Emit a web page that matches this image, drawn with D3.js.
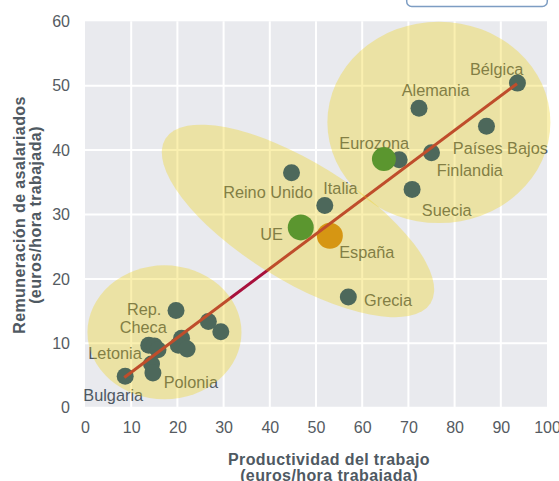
<!DOCTYPE html>
<html>
<head>
<meta charset="utf-8">
<script src="https://cdn.jsdelivr.net/npm/d3@7"></script>
<style>
  body { margin: 0; background: #fff; }
  svg { display: block; font-family: "Liberation Sans", Arial, sans-serif; }
</style>
</head>
<body>
<div id="box"></div>
<script>
'use strict';

// countries: productividad (x) vs remuneración (y), euros/hora trabajada
var countryX = [93.6, 72.3, 86.9, 75.0, 68.0, 70.8, 44.7, 51.9, 57.0,
                19.7, 13.8, 15.0, 15.8, 14.4, 14.7, 20.9, 20.2, 22.1, 26.7, 29.4, 8.7];
var countryY = [50.4, 46.5, 43.7, 39.6, 38.5, 33.9, 36.5, 31.4, 17.2,
                15.1, 9.7, 9.6, 9.0, 6.8, 5.4, 10.8, 9.7, 9.1, 13.4, 11.8, 4.9];

// highlighted aggregates
var bigNames = ["Eurozona", "UE", "España"];
var bigX = [64.7, 46.7, 53.0];
var bigY = [38.6, 28.0, 26.7];

// labels (centre of text, in chart units)
var labelText = ["Bélgica", "Alemania", "Países Bajos", "Finlandia", "Eurozona", "Suecia",
                 "Italia", "Reino Unido", "UE", "España", "Grecia", "Rep.", "Checa",
                 "Letonia", "Polonia", "Bulgaria"];
var labelX = [89.1, 75.9, 89.9, 83.3, 62.6, 78.3, 55.3, 39.6, 40.4, 61.0, 65.6, 12.8, 12.6, 6.5, 22.9, 6.1];
var labelY = [52.6, 49.3, 40.3, 36.8, 41.1, 30.7, 34.1, 33.5, 26.9, 24.1, 16.7, 15.3, 12.5, 8.4, 4.0, 2.0];

// trend line ends
var trendX = [8.5, 93.5];
var trendY = [4.7, 50.3];

// groups highlighted with ellipses (centre in chart units)
var groupCx = [17.2, 46.1, 76.6];
var groupCy = [11.7, 29.0, 44.3];

var xTicks = [0, 10, 20, 30, 40, 50, 60, 70, 80, 90, 100];
var yTicks = [0, 10, 20, 30, 40, 50, 60];

var W = 559, H = 481;
var margin = {top: 21.3, right: 12, bottom: 73.3, left: 85};
var width = W - margin.left - margin.right;
var height = H - margin.top - margin.bottom;

var svg = d3.select("#box").append("svg")
    .attr("width", W)
    .attr("height", H);

// partial box cut at top of picture
svg.append("rect")
    .attr("x", 406.7).attr("y", -12)
    .attr("width", 140.6).attr("height", 18.5)
    .attr("rx", 5)
    .attr("fill", "#fff")
    .attr("stroke", "#7d9dc3")
    .attr("stroke-width", 1.5);

var g = svg.append("g")
    .attr("transform", "translate(" + margin.left + "," + margin.top + ")");

var x = d3.scaleLinear().domain([0, 100]).range([0, width]);
var y = d3.scaleLinear().domain([0, 60]).range([height, 0]);

g.append("rect")
    .attr("width", width)
    .attr("height", height)
    .attr("fill", "#e9eaee");

// grid
g.append("g").selectAll("line").data(xTicks.slice(1, -1)).join("line")
    .attr("x1", function(d) { return x(d); })
    .attr("x2", function(d) { return x(d); })
    .attr("y1", 0).attr("y2", height)
    .attr("stroke", "#fff").attr("stroke-width", 2);
g.append("g").selectAll("line").data(yTicks.slice(0, -1)).join("line")
    .attr("x1", 0).attr("x2", width)
    .attr("y1", function(d) { return y(d); })
    .attr("y2", function(d) { return y(d); })
    .attr("stroke", "#fff").attr("stroke-width", 2);

// axes (labels only)
var xAxis = g.append("g")
    .attr("transform", "translate(0," + height + ")")
    .call(d3.axisBottom(x).tickValues(xTicks).tickSize(0).tickPadding(14));
var yAxis = g.append("g")
    .call(d3.axisLeft(y).tickValues(yTicks).tickSize(0).tickPadding(15));
[xAxis, yAxis].forEach(function(a) {
  a.select(".domain").remove();
  a.selectAll("text")
    .attr("fill", "#555b62")
    .style("font-size", "16px")
    .style("font-family", "Liberation Sans, Arial, sans-serif");
});

// axis titles
var xt = svg.append("text")
    .attr("x", 329).attr("y", 465)
    .attr("text-anchor", "middle")
    .attr("fill", "#4f5962")
    .style("font-size", "16px")
    .style("font-weight", "bold")
    .style("letter-spacing", "0.4px");
xt.append("tspan").attr("x", 329).text("Productividad del trabajo");
xt.append("tspan").attr("x", 329).attr("dy", 16).text("(euros/hora trabajada)");

var yt = svg.append("text")
    .attr("transform", "translate(25,215) rotate(-90)")
    .attr("text-anchor", "middle")
    .attr("fill", "#4f5962")
    .style("font-size", "16px")
    .style("font-weight", "bold")
    .style("letter-spacing", "0.4px");
yt.append("tspan").attr("x", 0).text("Remuneración de asalariados");
yt.append("tspan").attr("x", 0).attr("dy", 16).text("(euros/hora trabajada)");

// labels
g.append("g").selectAll("text").data(labelText).join("text")
    .attr("x", function(d, i) { return x(labelX[i]); })
    .attr("y", function(d, i) { return y(labelY[i]); })
    .attr("dy", "0.35em")
    .attr("text-anchor", "middle")
    .attr("fill", "#4e5862")
    .style("font-size", "16.3px")
    .text(function(d) { return d; });

// country points
g.append("g").selectAll("circle").data(countryX).join("circle")
    .attr("cx", function(d) { return x(d); })
    .attr("cy", function(d, i) { return y(countryY[i]); })
    .attr("r", 8.5)
    .attr("fill", "#003782");

var bigColor = {"Eurozona": "#167b42", "UE": "#167b42", "España": "#cb7b19"};
var bigR = {"Eurozona": 12, "UE": 13, "España": 13};
g.append("g").selectAll("circle").data(bigNames).join("circle")
    .attr("cx", function(d, i) { return x(bigX[i]); })
    .attr("cy", function(d, i) { return y(bigY[i]); })
    .attr("r", function(d) { return bigR[d]; })
    .attr("fill", function(d) { return bigColor[d]; });

// trend line
g.append("path")
    .datum(trendX)
    .attr("fill", "none")
    .attr("stroke", "#a8103c")
    .attr("stroke-width", 3)
    .attr("d", d3.line()
      .x(function(d) { return x(d); })
      .y(function(d, i) { return y(trendY[i]); }));

// ellipses drawn over everything, translucent
var ellRx = [77, 156, 111.5];
var ellRy = [67, 59, 100.7];
var ellRot = [0, 31.8, 0];
g.append("g").selectAll("ellipse").data(groupCx).join("ellipse")
    .attr("transform", function(d, i) {
      return "translate(" + x(d) + "," + y(groupCy[i]) + ") rotate(" + ellRot[i] + ")";
    })
    .attr("rx", function(d, i) { return ellRx[i]; })
    .attr("ry", function(d, i) { return ellRy[i]; })
    .attr("fill", "#f0d00a")
    .attr("fill-opacity", 0.32);
</script>
</body>
</html>
